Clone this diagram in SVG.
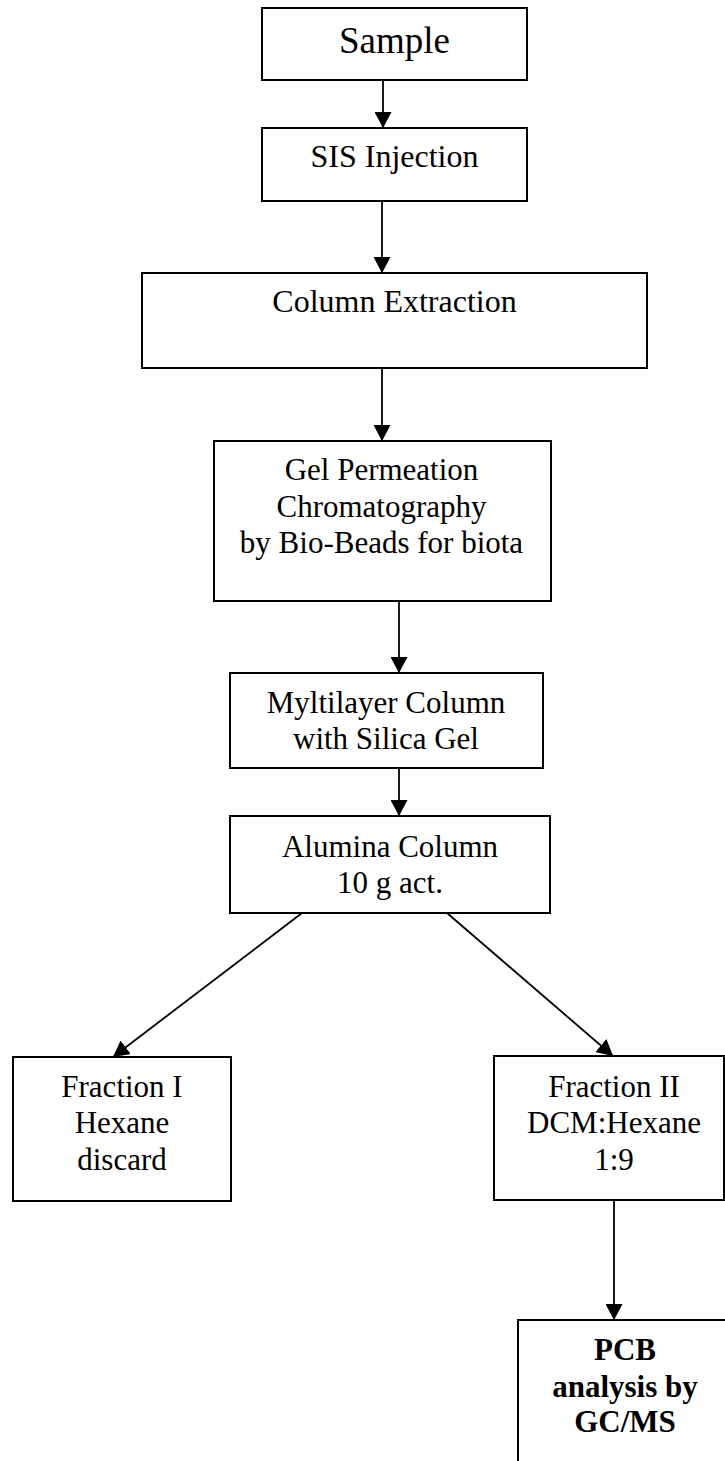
<svg xmlns="http://www.w3.org/2000/svg" width="725" height="1461" viewBox="0 0 725 1461">
<defs>
<style>
.box{fill:#fff;stroke:#000;stroke-width:2}
.t{font-family:"Liberation Serif","Times New Roman",serif;font-size:31px;fill:#000;text-anchor:middle}
.b{font-weight:bold}
.c{stroke:#000;stroke-width:1.8;fill:none;marker-end:url(#ah)}
</style>
<marker id="ah" markerUnits="userSpaceOnUse" markerWidth="17" markerHeight="17" viewBox="0 0 17 17" refX="16" refY="8.5" orient="auto">
<path d="M0,0 L16,8.5 L0,17 Z" fill="#000"/>
</marker>
</defs>
<rect width="725" height="1461" fill="#fff"/>
<g id="connectors">
<line class="c" x1="383" y1="80" x2="383" y2="128"/>
<line class="c" x1="382" y1="201" x2="382" y2="273"/>
<line class="c" x1="382" y1="368" x2="382" y2="441"/>
<line class="c" x1="399" y1="601" x2="399" y2="673"/>
<line class="c" x1="399" y1="768" x2="399" y2="816"/>
<line class="c" x1="302" y1="913" x2="113" y2="1057"/>
<line class="c" x1="447" y1="913" x2="613" y2="1056"/>
<line class="c" x1="614" y1="1200" x2="614" y2="1320"/>
</g>
<g id="sample">
<rect class="box" x="262" y="8" width="265" height="72"/>
<text class="t" x="394.5" y="53" style="font-size:37px">Sample</text>
</g>
<g id="sis">
<rect class="box" x="262" y="128" width="265" height="73"/>
<text class="t" x="394.5" y="167" style="font-size:32px">SIS Injection</text>
</g>
<g id="column-extraction">
<rect class="box" x="142" y="273" width="505" height="95"/>
<text class="t" x="394.5" y="312" style="font-size:32px">Column Extraction</text>
</g>
<g id="gpc">
<rect class="box" x="214" y="441" width="337" height="160"/>
<text class="t" x="381.5" y="480">Gel Permeation</text>
<text class="t" x="381.5" y="517">Chromatography</text>
<text class="t" x="381.5" y="553">by Bio-Beads for biota</text>
</g>
<g id="multilayer">
<rect class="box" x="230" y="673" width="313" height="95"/>
<text class="t" x="386" y="713">Myltilayer Column</text>
<text class="t" x="386" y="749">with Silica Gel</text>
</g>
<g id="alumina">
<rect class="box" x="230" y="816" width="320" height="97"/>
<text class="t" x="390" y="857">Alumina Column</text>
<text class="t" x="390" y="893">10 g act.</text>
</g>
<g id="fraction1">
<rect class="box" x="13" y="1057" width="218" height="144"/>
<text class="t" x="122" y="1097">Fraction I</text>
<text class="t" x="122" y="1133">Hexane</text>
<text class="t" x="122" y="1170">discard</text>
</g>
<g id="fraction2">
<rect class="box" x="494" y="1056" width="230" height="144"/>
<text class="t" x="614" y="1097">Fraction II</text>
<text class="t" x="614" y="1133">DCM:Hexane</text>
<text class="t" x="614" y="1170">1:9</text>
</g>
<g id="pcb">
<rect class="box" x="518" y="1320" width="230" height="160"/>
<text class="t b" x="625" y="1360">PCB</text>
<text class="t b" x="625" y="1397">analysis by</text>
<text class="t b" x="625" y="1432">GC/MS</text>
</g>
</svg>
